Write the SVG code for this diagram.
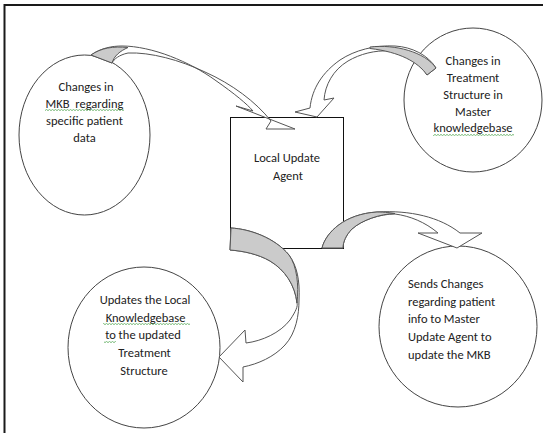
<svg xmlns="http://www.w3.org/2000/svg" width="543" height="433" viewBox="0 0 543 433">
<defs>
<style>
.frame{stroke:#1a1a1a;stroke-width:2;fill:none}
.ell{fill:#fff;stroke:#444;stroke-width:1}
.box{fill:#fff;stroke:#111;stroke-width:1}
.arr{fill:#fff;stroke:#555;stroke-width:1;stroke-linejoin:miter}
.face{fill:#cbcbcb;stroke:#555;stroke-width:1}
text{font-family:Carlito,Lato,"Liberation Sans",sans-serif;font-size:12.5px;fill:#222;white-space:pre}
.c{text-anchor:middle}
.sq{fill:url(#wavy)}
</style>
<pattern id="wavy" width="3" height="2" patternUnits="userSpaceOnUse">
<path d="M0,0.4 L1.5,1.6 L3,0.4" stroke="#3a9a3a" stroke-width="0.7" fill="none"/>
</pattern>
</defs>
<rect width="543" height="433" fill="#fff"/>
<path class="frame" d="M4.5,433 L4.5,5 L543,5"/>

<g id="node-mkb-changes">
<ellipse class="ell" cx="84.5" cy="135" rx="65.5" ry="80"/>
<text class="c" x="86" y="91">Changes in</text>
<text class="c" x="84.5" y="108">MKB  regarding</text>
<text class="c" x="84.5" y="125">specific patient</text>
<text class="c" x="84.5" y="142">data</text>
<rect class="sq" x="45" y="109" width="79" height="2"/>
</g>

<g id="node-treatment-changes">
<ellipse class="ell" cx="473" cy="100" rx="69" ry="72"/>
<text class="c" x="473" y="65">Changes in</text>
<text class="c" x="473" y="82">Treatment</text>
<text class="c" x="473" y="99">Structure in</text>
<text class="c" x="473" y="116">Master</text>
<text class="c" x="473" y="132">knowledgebase</text>
<rect class="sq" x="433" y="134" width="81" height="2"/>
</g>

<g id="node-local-update-agent">
<rect class="box" x="230.5" y="117.5" width="113" height="131"/>
<text class="c" x="287" y="162">Local Update</text>
<text class="c" x="288" y="180">Agent</text>
</g>

<g id="node-updates-local">
<ellipse class="ell" cx="144" cy="347.5" rx="76" ry="80.5"/>
<text class="c" x="145" y="304">Updates the Local</text>
<text class="c" x="147" y="322">Knowledgebase </text>
<text class="c" x="143" y="339">to the updated</text>
<text class="c" x="144.5" y="357">Treatment</text>
<text class="c" x="144" y="375">Structure</text>
<rect class="sq" x="103" y="323" width="87" height="2"/>
<rect class="sq" x="104" y="341" width="12" height="2"/>
</g>

<g id="node-sends-changes">
<ellipse class="ell" cx="458" cy="326.5" rx="79" ry="80.5"/>
<text x="408" y="288">Sends Changes</text>
<text x="408" y="305.5">regarding patient</text>
<text x="408" y="323">info to Master</text>
<text x="408" y="341">Update Agent to</text>
<text x="408" y="358.5">update the MKB</text>
</g>

<g id="connectors">
<g id="arrow-mkb-to-agent">
<path class="arr" d="M91,55 C101,48 112,46 122,46 C152,46 190,62 215,80 C235,94 247,104 253,111 L236,106 L295,129 L266,129 L271,121 C256,102 232,84 205,72 C180,60 150,52 128,53 C119,55 114,59 112,63 Z"/>
<path class="face" d="M91,55 C101,48 113,46 128,47.5 C120,51 114,56 112,63 Z"/>
</g>
<g id="arrow-treatment-to-agent">
<path class="arr" d="M436,68 C428,55 412,47 395,46 C375,45 355,50 340,60 C323,72 312,88 310,108 L295,112 L317,117 L334,98 L324,100 C325,85 333,70 348,61 C360,54 375,50 390,51 C405,53 420,63 427,75 Z"/>
<path class="face" d="M370,47 C395,44 425,52 436,68 L427,75 C418,62 400,52 370,48.5 Z"/>
</g>
<g id="arrow-agent-to-updates">
<path class="arr" d="M231,228 C250,229 275,238 289,255 C297,266 300,280 299,300 C299,315 296,333 285,345 C274,357 258,364 243,367 L243,382 L219,357 L245,330 L246,343 C262,341 280,333 290,320 C296,311 298,306 297,303 C295,285 285,270 270,261 C258,254 243,251 230,250 Z"/>
<path class="face" d="M231,228 C250,229 275,238 289,255 C297,266 299,285 297,303 C295,285 285,270 270,261 C258,254 243,251 230,250 Z"/>
</g>
<g id="arrow-agent-to-sends">
<path class="arr" d="M322,248 C326,232 345,214 377,212 C410,210 440,217 460,233 L482,233 L457,248 L418,233 L438,233 C425,222 410,216 395,214 C380,214 362,220 352,229 C346,235 343,242 343,248 Z"/>
<path class="face" d="M322,248 C326,232 345,214 377,212 C385,212 392,213 395,213.5 C380,214 362,220 352,229 C346,235 343,242 343,248 Z"/>
</g>
</g>
</svg>
